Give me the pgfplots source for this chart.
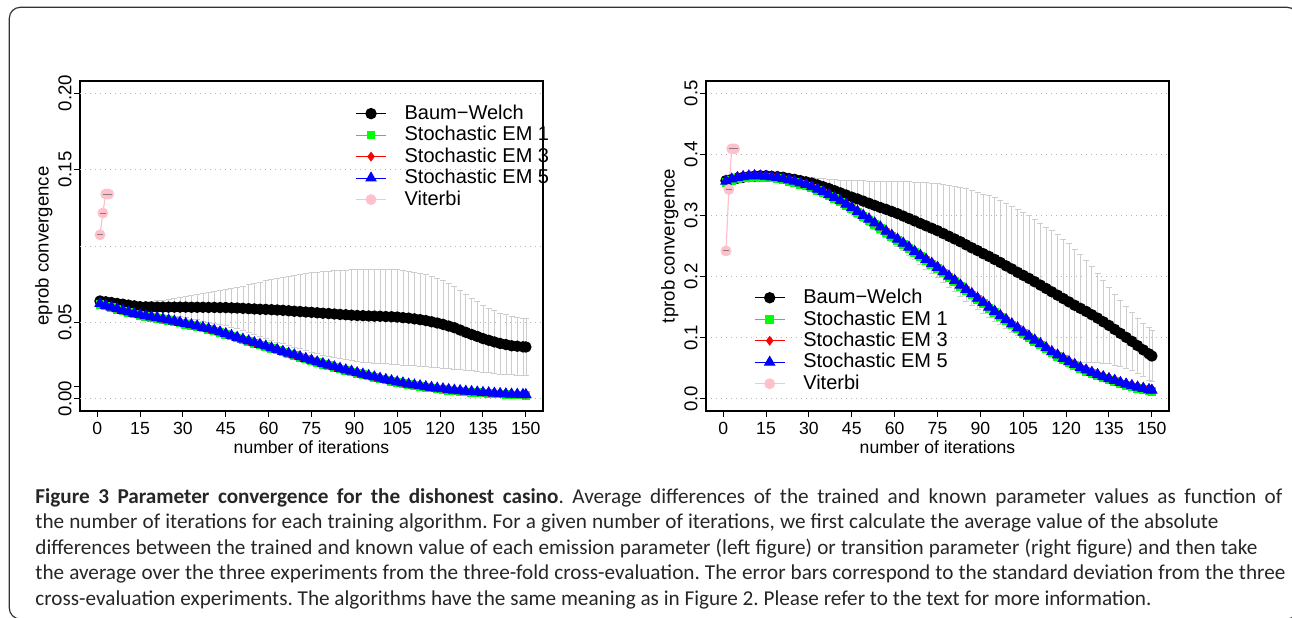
\documentclass[border=0pt]{standalone}
\usepackage{fontspec}
\setmainfont{Liberation Sans}
\newfontfamily\capfont{Carlito}
\usepackage{pgfplots}
\usepackage{pgfplotstable}
\pgfplotsset{compat=1.18}

\definecolor{rgreen}{RGB}{0,255,0}
\definecolor{rred}{RGB}{255,0,0}
\definecolor{rblue}{RGB}{0,0,255}
\definecolor{rpink}{RGB}{255,192,203}
\definecolor{rgray}{RGB}{205,205,205}
\definecolor{gridgray}{RGB}{180,180,180}

% emission parameters (left): iteration, Baum-Welch, its sd, SEM1, SEM3, SEM5
\pgfplotstableread{
it bw sd s1 s3 s5
1 0.0640 0.0000 0.0619 0.0627 0.0623
3 0.0635 0.0003 0.0607 0.0615 0.0611
5 0.0630 0.0005 0.0596 0.0604 0.0600
7 0.0624 0.0008 0.0585 0.0593 0.0589
9 0.0619 0.0011 0.0574 0.0582 0.0578
11 0.0613 0.0015 0.0564 0.0572 0.0568
13 0.0608 0.0020 0.0555 0.0563 0.0559
15 0.0603 0.0025 0.0546 0.0554 0.0550
17 0.0602 0.0030 0.0539 0.0547 0.0543
19 0.0601 0.0035 0.0532 0.0540 0.0536
21 0.0600 0.0041 0.0526 0.0534 0.0530
23 0.0600 0.0046 0.0518 0.0526 0.0522
25 0.0600 0.0052 0.0511 0.0519 0.0515
27 0.0600 0.0058 0.0504 0.0512 0.0508
29 0.0600 0.0063 0.0496 0.0504 0.0500
31 0.0600 0.0069 0.0488 0.0496 0.0492
33 0.0599 0.0076 0.0480 0.0488 0.0484
35 0.0599 0.0082 0.0472 0.0480 0.0476
37 0.0599 0.0089 0.0463 0.0471 0.0467
39 0.0598 0.0096 0.0454 0.0462 0.0458
41 0.0598 0.0104 0.0444 0.0452 0.0448
43 0.0597 0.0111 0.0433 0.0441 0.0437
45 0.0597 0.0118 0.0422 0.0430 0.0426
47 0.0595 0.0127 0.0410 0.0418 0.0414
49 0.0594 0.0136 0.0398 0.0406 0.0402
51 0.0592 0.0145 0.0386 0.0394 0.0390
53 0.0590 0.0156 0.0375 0.0383 0.0379
55 0.0588 0.0166 0.0363 0.0371 0.0367
57 0.0586 0.0178 0.0352 0.0360 0.0356
59 0.0585 0.0189 0.0341 0.0349 0.0345
61 0.0583 0.0200 0.0329 0.0337 0.0333
63 0.0581 0.0209 0.0318 0.0326 0.0322
65 0.0579 0.0218 0.0306 0.0314 0.0310
67 0.0576 0.0227 0.0294 0.0302 0.0298
69 0.0573 0.0236 0.0283 0.0291 0.0287
71 0.0571 0.0244 0.0271 0.0279 0.0275
73 0.0568 0.0252 0.0260 0.0268 0.0264
75 0.0566 0.0260 0.0248 0.0256 0.0252
77 0.0563 0.0266 0.0237 0.0245 0.0241
79 0.0560 0.0273 0.0226 0.0234 0.0230
81 0.0558 0.0279 0.0216 0.0224 0.0220
83 0.0555 0.0284 0.0205 0.0213 0.0209
85 0.0552 0.0289 0.0195 0.0203 0.0199
87 0.0550 0.0293 0.0185 0.0193 0.0189
89 0.0547 0.0297 0.0176 0.0184 0.0180
91 0.0545 0.0300 0.0166 0.0174 0.0170
93 0.0544 0.0303 0.0157 0.0165 0.0161
95 0.0542 0.0305 0.0148 0.0156 0.0152
97 0.0541 0.0307 0.0139 0.0147 0.0143
99 0.0540 0.0308 0.0130 0.0138 0.0134
101 0.0538 0.0309 0.0122 0.0130 0.0126
103 0.0537 0.0310 0.0114 0.0122 0.0118
105 0.0535 0.0310 0.0106 0.0114 0.0110
107 0.0531 0.0309 0.0099 0.0107 0.0103
109 0.0528 0.0308 0.0092 0.0100 0.0096
111 0.0523 0.0306 0.0086 0.0094 0.0090
113 0.0518 0.0303 0.0081 0.0089 0.0085
115 0.0512 0.0300 0.0075 0.0083 0.0079
117 0.0504 0.0296 0.0070 0.0078 0.0074
119 0.0496 0.0292 0.0065 0.0073 0.0069
121 0.0487 0.0286 0.0061 0.0069 0.0065
123 0.0476 0.0278 0.0056 0.0064 0.0060
125 0.0465 0.0270 0.0052 0.0060 0.0056
127 0.0450 0.0259 0.0049 0.0057 0.0053
129 0.0435 0.0248 0.0045 0.0053 0.0049
131 0.0421 0.0237 0.0043 0.0051 0.0047
133 0.0408 0.0228 0.0040 0.0048 0.0044
135 0.0394 0.0218 0.0037 0.0045 0.0041
137 0.0383 0.0212 0.0035 0.0043 0.0039
139 0.0372 0.0205 0.0032 0.0040 0.0036
141 0.0362 0.0200 0.0030 0.0038 0.0034
143 0.0355 0.0195 0.0028 0.0036 0.0032
145 0.0347 0.0190 0.0026 0.0034 0.0030
147 0.0344 0.0188 0.0025 0.0033 0.0029
149 0.0340 0.0186 0.0024 0.0032 0.0028
150 0.0339 0.0185 0.0023 0.0031 0.0027
}\eprob

% transition parameters (right)
\pgfplotstableread{
it bw sd s1 s3 s5
1 0.3570 0.0000 0.3540 0.3580 0.3560
3 0.3590 0.0005 0.3575 0.3615 0.3595
5 0.3610 0.0010 0.3600 0.3640 0.3620
7 0.3625 0.0014 0.3615 0.3655 0.3635
9 0.3635 0.0018 0.3625 0.3665 0.3645
11 0.3645 0.0022 0.3630 0.3670 0.3650
13 0.3650 0.0026 0.3625 0.3665 0.3645
15 0.3650 0.0030 0.3620 0.3660 0.3640
17 0.3640 0.0034 0.3610 0.3650 0.3630
19 0.3635 0.0038 0.3600 0.3640 0.3620
21 0.3625 0.0042 0.3580 0.3620 0.3600
23 0.3605 0.0046 0.3560 0.3600 0.3580
25 0.3590 0.0050 0.3540 0.3580 0.3560
27 0.3570 0.0062 0.3510 0.3550 0.3530
29 0.3550 0.0074 0.3485 0.3525 0.3505
31 0.3530 0.0090 0.3450 0.3490 0.3470
33 0.3500 0.0110 0.3410 0.3450 0.3430
35 0.3470 0.0130 0.3370 0.3410 0.3390
37 0.3440 0.0154 0.3320 0.3360 0.3340
39 0.3405 0.0178 0.3275 0.3315 0.3295
41 0.3370 0.0206 0.3220 0.3260 0.3240
43 0.3335 0.0238 0.3165 0.3205 0.3185
45 0.3300 0.0270 0.3110 0.3150 0.3130
47 0.3270 0.0302 0.3045 0.3085 0.3065
49 0.3235 0.0334 0.2980 0.3020 0.3000
51 0.3200 0.0366 0.2920 0.2960 0.2940
53 0.3165 0.0398 0.2855 0.2895 0.2875
55 0.3130 0.0430 0.2790 0.2830 0.2810
57 0.3100 0.0462 0.2720 0.2760 0.2740
59 0.3065 0.0494 0.2655 0.2695 0.2675
61 0.3030 0.0528 0.2590 0.2630 0.2610
63 0.2990 0.0564 0.2525 0.2565 0.2545
65 0.2950 0.0600 0.2460 0.2500 0.2480
67 0.2910 0.0636 0.2390 0.2430 0.2410
69 0.2870 0.0672 0.2325 0.2365 0.2345
71 0.2830 0.0706 0.2260 0.2300 0.2280
73 0.2790 0.0738 0.2195 0.2235 0.2215
75 0.2750 0.0770 0.2130 0.2170 0.2150
77 0.2705 0.0802 0.2060 0.2100 0.2080
79 0.2660 0.0834 0.1985 0.2025 0.2005
81 0.2615 0.0864 0.1915 0.1955 0.1935
83 0.2570 0.0892 0.1840 0.1880 0.1860
85 0.2520 0.0920 0.1770 0.1810 0.1790
87 0.2470 0.0940 0.1700 0.1740 0.1720
89 0.2425 0.0960 0.1625 0.1665 0.1645
91 0.2375 0.0978 0.1555 0.1595 0.1575
93 0.2330 0.0994 0.1480 0.1520 0.1500
95 0.2280 0.1010 0.1410 0.1450 0.1430
97 0.2230 0.1018 0.1340 0.1380 0.1360
99 0.2175 0.1026 0.1275 0.1315 0.1295
101 0.2125 0.1030 0.1205 0.1245 0.1225
103 0.2070 0.1030 0.1140 0.1180 0.1160
105 0.2020 0.1030 0.1070 0.1110 0.1090
107 0.1970 0.1026 0.1005 0.1045 0.1025
109 0.1915 0.1022 0.0940 0.0980 0.0960
111 0.1860 0.1016 0.0880 0.0920 0.0900
113 0.1805 0.1008 0.0815 0.0855 0.0835
115 0.1750 0.1000 0.0750 0.0790 0.0770
117 0.1695 0.0988 0.0695 0.0735 0.0715
119 0.1640 0.0976 0.0640 0.0680 0.0660
121 0.1585 0.0954 0.0585 0.0625 0.0605
123 0.1530 0.0922 0.0540 0.0580 0.0560
125 0.1480 0.0890 0.0490 0.0530 0.0510
127 0.1430 0.0838 0.0450 0.0490 0.0470
129 0.1375 0.0786 0.0410 0.0450 0.0430
131 0.1320 0.0732 0.0375 0.0415 0.0395
133 0.1260 0.0676 0.0340 0.0380 0.0360
135 0.1200 0.0620 0.0310 0.0350 0.0330
137 0.1135 0.0580 0.0280 0.0320 0.0300
139 0.1070 0.0540 0.0245 0.0285 0.0265
141 0.1005 0.0506 0.0220 0.0260 0.0240
143 0.0940 0.0478 0.0195 0.0235 0.0215
145 0.0870 0.0450 0.0170 0.0210 0.0190
147 0.0800 0.0438 0.0150 0.0190 0.0170
149 0.0735 0.0426 0.0130 0.0170 0.0150
150 0.0700 0.0420 0.0120 0.0160 0.0140
}\tprob

\pgfplotsset{
  rplot/.style={
    scale only axis, width=231.5pt, height=165pt,
    xmin=-6, xmax=156, xtick={0,15,...,150},
    tick align=outside, xtick pos=bottom, ytick pos=left,
    major tick length=3pt, tick style={black, line width=0.5pt},
    axis line style={line width=0.6pt},
    /pgf/number format/assume math mode=true,
    ticklabel style={font=\fontsize{8.8pt}{10pt}\selectfont},
    label style={font=\fontsize{8.8pt}{10pt}\selectfont},
    xticklabel style={anchor=north, yshift=1pt},
    yticklabel style={rotate=90, anchor=south, inner ysep=1pt, font=\fontsize{9.3pt}{10pt}\selectfont},
    xlabel={number of iterations},
    xlabel style={at={(axis description cs:0.5,-0.109)}, anchor=center},
    ylabel style={at={(axis description cs:-0.078,0.5)}, anchor=center, font=\fontsize{9.3pt}{10pt}\selectfont},
    grid style={gridgray, line width=0.45pt, dash pattern=on 0.5pt off 2pt},
    legend cell align=left,
    legend style={draw=none, fill=none, anchor=north west, inner sep=0pt,
      font=\fontsize{10pt}{11pt}\selectfont, row sep=-2pt, column sep=7pt},
    legend image code/.code={\draw[mark repeat=2, mark phase=2] plot coordinates {(0pt,0pt) (7.5pt,0pt) (15pt,0pt)};},
  },
  errbw/.style={draw=none, mark=none, forget plot,
    error bars/.cd, y dir=both, y explicit,
    error bar style={rgray, line width=0.35pt},
    error mark options={rgray, line width=0.35pt, mark size=1.5pt, rotate=90}},
  bwst/.style={black, line width=0.5pt, mark=*, mark size=2.6pt},
  s1st/.style={rgreen, line width=0.5pt, mark=square*, mark size=1.9pt},
  s3st/.style={rred, line width=0.5pt, mark=diamond*, mark size=2.1pt},
  s5st/.style={rblue, line width=0.5pt, mark=triangle*, mark size=2.9pt},
  vtst/.style={rpink, line width=0.6pt, mark=*, mark size=2.4pt},
  vtbar/.style={only marks, mark=-, mark size=1.6pt, gray, line width=0.5pt, forget plot},
}

\begin{document}
\begin{tikzpicture}[x=0.5pt, y=0.5pt]
\useasboundingbox (0,0) rectangle (1292,617);
\draw[black!80, line width=0.6pt, rounded corners=5.5pt] (9.3,-2) rectangle (1298,609.7);

\coordinate (L) at (80,206);
\coordinate (R) at (706,206);

\begin{axis}[rplot, at={(L)}, anchor=south west,
  ymin=-0.008, ymax=0.208,
  ytick={0,0.008,0.05,0.15,0.2}, yticklabels={0.00,,0.05,0.15,0.20},
  extra y ticks={0,0.05,0.1,0.15,0.2}, extra y tick labels={},
  extra y tick style={grid=major, major tick length=0pt},
  ylabel={eprob convergence},
  legend style={at={(0.594,0.941)}}]
\addplot[errbw] table[x=it, y=bw, y error=sd] {\eprob};
\addplot[bwst] table[x=it, y=bw] {\eprob};
\addlegendentry{Baum−Welch}
\addplot[s1st] table[x=it, y=s1] {\eprob};
\addlegendentry{Stochastic EM 1}
\addplot[s3st] table[x=it, y=s3] {\eprob};
\addlegendentry{Stochastic EM 3}
\addplot[s5st] table[x=it, y=s5] {\eprob};
\addlegendentry{Stochastic EM 5}
\addplot[vtst] coordinates {(1,0.1073) (2,0.1216) (3,0.1340) (4,0.1340)};
\addlegendentry{Viterbi}
\addplot[vtbar] coordinates {(1,0.1073) (2,0.1216) (3,0.1340) (4,0.1340)};
\end{axis}

\begin{axis}[rplot, at={(R)}, anchor=south west,
  ymin=-0.02, ymax=0.52,
  ytick={0,0.1,...,0.5}, yticklabels={0.0,0.1,0.2,0.3,0.4,0.5},
  ymajorgrids,
  ylabel={tprob convergence},
  legend style={at={(0.103,0.383)}}]
\addplot[errbw] table[x=it, y=bw, y error=sd] {\tprob};
\addplot[bwst] table[x=it, y=bw] {\tprob};
\addlegendentry{Baum−Welch}
\addplot[s1st] table[x=it, y=s1] {\tprob};
\addlegendentry{Stochastic EM 1}
\addplot[s3st] table[x=it, y=s3] {\tprob};
\addlegendentry{Stochastic EM 3}
\addplot[s5st] table[x=it, y=s5] {\tprob};
\addlegendentry{Stochastic EM 5}
\addplot[vtst] coordinates {(1,0.242) (2,0.3425) (3,0.409) (4,0.409)};
\addlegendentry{Viterbi}
\addplot[vtbar] coordinates {(1,0.242) (2,0.3425) (3,0.409) (4,0.409)};
\end{axis}

\begin{scope}[font=\capfont\fontsize{10.6pt}{12pt}\selectfont\frenchspacing, black!85]
\node[anchor=base west, inner sep=0pt] at (35,114) {\makebox[623.5pt][s]{\textbf{Figure 3 Parameter convergence for the dishonest casino}. Average differences of the trained and known parameter values as function of}};
\node[anchor=base west, inner sep=0pt] at (35,88.5) {\makebox[591.5pt][s]{the number of iterations for each training algorithm. For a given number of iterations, we first calculate the average value of the absolute}};
\node[anchor=base west, inner sep=0pt] at (35,63) {\makebox[611pt][s]{differences between the trained and known value of each emission parameter (left figure) or transition parameter (right figure) and then take}};
\node[anchor=base west, inner sep=0pt] at (35,37.5) {\makebox[625pt][s]{the average over the three experiments from the three-fold cross-evaluation. The error bars correspond to the standard deviation from the three}};
\node[anchor=base west, inner sep=0pt] at (35,12) {cross-evaluation experiments. The algorithms have the same meaning as in Figure 2. Please refer to the text for more information.};
\end{scope}
\end{tikzpicture}
\end{document}
